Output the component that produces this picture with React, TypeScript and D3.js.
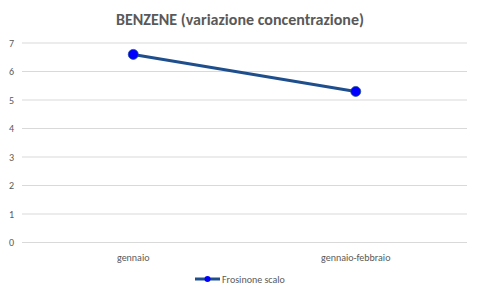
import React from "react";
import * as d3 from "d3";

const categories = ["gennaio", "gennaio-febbraio"];
const values = [6.6, 5.3];
const seriesName = "Frosinone scalo";
const yTicks = [0, 1, 2, 3, 4, 5, 6, 7];
const title = "BENZENE (variazione concentrazione)";

export default function App() {
  const W = 480, H = 296;
  const left = 22, right = 467, top = 43, bottom = 242.5;
  const x = d3.scaleBand<string>().domain(categories).range([left, right]);
  const y = d3.scaleLinear().domain([0, 7]).range([bottom, top]);
  const line = d3.line<number>()
    .x((_, i) => (x(categories[i]) as number) + x.bandwidth() / 2)
    .y((d) => y(d));
  const font = "Carlito, Calibri, 'Open Sans', sans-serif";
  return (
    <svg width={W} height={H} style={{ position: "absolute", left: 0, top: 0, background: "#fff" }} fontFamily={font}>
      <rect width={W} height={H} fill="#fff" />
      <text x={240} y={24.5} textAnchor="middle" fontSize={16} fontWeight="bold" fill="#595959">{title}</text>
      {yTicks.map((t) => (
        <g key={t}>
          <line x1={left} x2={right} y1={y(t)} y2={y(t)} stroke="#d9d9d9" strokeWidth={1} />
          <text x={14} y={y(t) + 3.5} textAnchor="end" fontSize={10} fill="#595959">{t}</text>
        </g>
      ))}
      {categories.map((c) => (
        <text key={c} x={(x(c) as number) + x.bandwidth() / 2} y={260.5} textAnchor="middle" fontSize={10} fill="#595959">{c}</text>
      ))}
      <path d={line(values) || ""} fill="none" stroke="#1f4e8c" strokeWidth={3} strokeLinecap="round" />
      {values.map((v, i) => (
        <circle key={i} cx={(x(categories[i]) as number) + x.bandwidth() / 2} cy={y(v)} r={5} fill="#0000ff" stroke="#1f4e8c" strokeWidth={0.75} />
      ))}
      <g>
        <line x1={195} x2={220} y1={279} y2={279} stroke="#1f4e8c" strokeWidth={3} />
        <circle cx={207.5} cy={279} r={3} fill="#0000ff" />
        <text x={222} y={282.5} fontSize={10} fill="#595959">{seriesName}</text>
      </g>
    </svg>
  );
}
